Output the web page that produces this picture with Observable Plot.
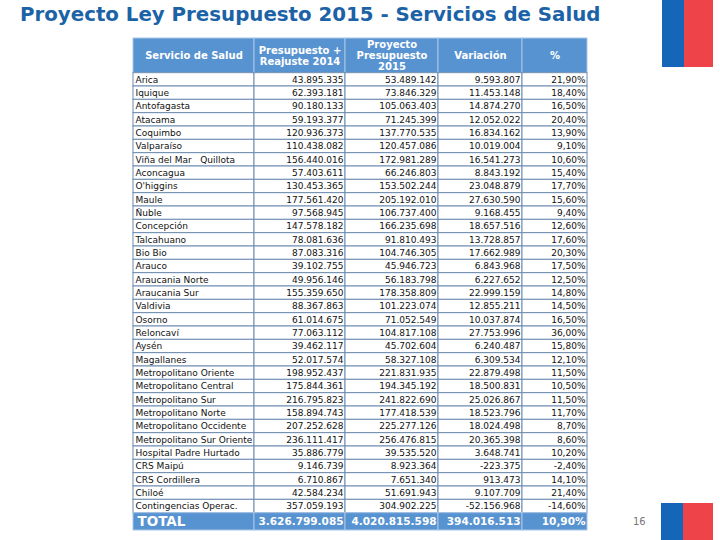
<!DOCTYPE html>
<html><head><meta charset="utf-8">
<script src="https://cdn.jsdelivr.net/npm/d3@7"></script>
<script src="https://cdn.jsdelivr.net/npm/@observablehq/plot@0.6"></script>
<style>
body{margin:0;width:720px;height:540px;position:relative;overflow:hidden;background:#fff;font-family:"DejaVu Sans",sans-serif}
#chart{position:absolute;left:0;top:0}
#title{position:absolute;left:20px;top:3px;font-size:19.8px;font-weight:bold;color:#1b62a7;white-space:nowrap}
.flag{position:absolute}
#page{position:absolute;left:633px;top:516px;font-size:10px;color:#777}
</style></head><body>
<div id="chart"></div>
<div id="title">Proyecto Ley Presupuesto 2015 - Servicios de Salud</div>
<div class="flag" style="left:662px;top:0;width:22px;height:67px;background:#1565b8"></div>
<div class="flag" style="left:684px;top:0;width:29px;height:67px;background:#ee4349"></div>
<div class="flag" style="left:661px;top:503px;width:22px;height:37px;background:#1565b8"></div>
<div class="flag" style="left:683px;top:503px;width:30px;height:37px;background:#ee4349"></div>
<div id="page">16</div>
<script>
const services = ["Arica","Iquique","Antofagasta","Atacama","Coquimbo","Valparaíso","Viña del Mar\u00a0\u00a0\u00a0Quillota","Aconcagua","O'higgins","Maule","Ñuble","Concepción","Talcahuano","Bio Bio","Arauco","Araucania Norte","Araucania Sur","Valdivia","Osorno","Reloncaví","Aysén","Magallanes","Metropolitano Oriente","Metropolitano Central","Metropolitano Sur","Metropolitano Norte","Metropolitano Occidente","Metropolitano Sur Oriente","Hospital Padre Hurtado","CRS Maipú","CRS Cordillera","Chiloé","Contingencias Operac."];
const budget2014 = [43895335,62393181,90180133,59193377,120936373,110438082,156440016,57403611,130453365,177561420,97568945,147578182,78081636,87083316,39102755,49956146,155359650,88367863,61014675,77063112,39462117,52017574,198952437,175844361,216795823,158894743,207252628,236111417,35886779,9146739,6710867,42584234,357059193];
const budget2015 = [53489142,73846329,105063403,71245399,137770535,120457086,172981289,66246803,153502244,205192010,106737400,166235698,91810493,104746305,45946723,56183798,178358809,101223074,71052549,104817108,45702604,58327108,221831935,194345192,241822690,177418539,225277126,256476815,39535520,8923364,7651340,51691943,304902225];
const variation = [9593807,11453148,14874270,12052022,16834162,10019004,16541273,8843192,23048879,27630590,9168455,18657516,13728857,17662989,6843968,6227652,22999159,12855211,10037874,27753996,6240487,6309534,22879498,18500831,25026867,18523796,18024498,20365398,3648741,-223375,913473,9107709,-52156968];
const percent = [21.9,18.4,16.5,20.4,13.9,9.1,10.6,15.4,17.7,15.6,9.4,12.6,17.6,20.3,17.5,12.5,14.8,14.5,16.5,36.0,15.8,12.1,11.5,10.5,11.5,11.7,8.7,8.6,10.2,-2.4,14.1,21.4,-14.6];
const headers = ["Servicio de Salud","Presupuesto +\nReajuste 2014","Proyecto\nPresupuesto\n2015","Variación","%"];
const totalLabel = "TOTAL";
const totalValues = [3626799085,4020815598,394016513,10.9];

// layout (style)
const colW = [121,91,93,84,65];
const edges = colW.reduce((a,w)=>(a.push(a[a.length-1]+w),a),[0]);
const headH = 2.6, totH = 1.3, nRows = services.length;
const fmt = n => (n<0?"-":"") + Math.abs(n).toString().replace(/\B(?=(\d{3})+(?!\d))/g,".");
const fp = p => p.toFixed(2).replace(".",",") + "%";

const headCells = headers.map((h,j)=>({x1:edges[j],x2:edges[j+1],y1:0,y2:headH,xc:(edges[j]+edges[j+1])/2,yc:headH/2,text:h}));
const dataCells = [];
services.forEach((s,i)=>{
  const vals = [s, fmt(budget2014[i]), fmt(budget2015[i]), fmt(variation[i]), fp(percent[i])];
  vals.forEach((v,j)=>dataCells.push({x1:edges[j],x2:edges[j+1],y1:headH+i,y2:headH+i+1,yc:headH+i+0.5,col:j,text:v}));
});
const totalCells = [totalLabel, fmt(totalValues[0]), fmt(totalValues[1]), fmt(totalValues[2]), fp(totalValues[3])]
  .map((v,j)=>({x1:edges[j],x2:edges[j+1],y1:headH+nRows,y2:headH+nRows+totH,yc:headH+nRows+totH/2,col:j,text:v}));

const blue = "#5893d1";
const chart = Plot.plot({
  width:720, height:540,
  marginLeft:133, marginRight:720-133-edges[5], marginTop:38, marginBottom:10,
  x:{domain:[0,edges[5]], axis:null},
  y:{domain:[0,headH+nRows+totH], reverse:true, axis:null},
  style:{fontFamily:"DejaVu Sans", background:"transparent"},
  marks:[
    Plot.rect(headCells,{x1:"x1",x2:"x2",y1:"y1",y2:"y2",fill:blue,stroke:"#a8c5e6",strokeWidth:1}),
    Plot.rect(dataCells,{x1:"x1",x2:"x2",y1:"y1",y2:"y2",fill:"white",stroke:"#6d8cb0",strokeWidth:1}),
    Plot.rect(totalCells,{x1:"x1",x2:"x2",y1:"y1",y2:"y2",fill:blue,stroke:"#a8c5e6",strokeWidth:1}),
    Plot.text(headCells,{x:"xc",y:"yc",text:"text",fill:"white",fontWeight:"bold",fontSize:10,lineHeight:1.1}),
    Plot.text(dataCells.filter(d=>d.col===0),{x:d=>d.x1+2,y:"yc",text:"text",textAnchor:"start",fill:"#111",fontSize:9}),
    Plot.text(dataCells.filter(d=>d.col>0),{x:d=>d.x2-2,y:"yc",text:"text",textAnchor:"end",fill:"#111",fontSize:9}),
    Plot.text(totalCells.filter(d=>d.col===0),{x:d=>d.x1+4,y:"yc",text:"text",textAnchor:"start",fill:"white",fontWeight:"bold",fontSize:13.5}),
    Plot.text(totalCells.filter(d=>d.col>0),{x:d=>d.x2-2,y:"yc",text:"text",textAnchor:"end",fill:"white",fontWeight:"bold",fontSize:10.5})
  ]
});
document.getElementById("chart").appendChild(chart);
</script>
</body></html>
